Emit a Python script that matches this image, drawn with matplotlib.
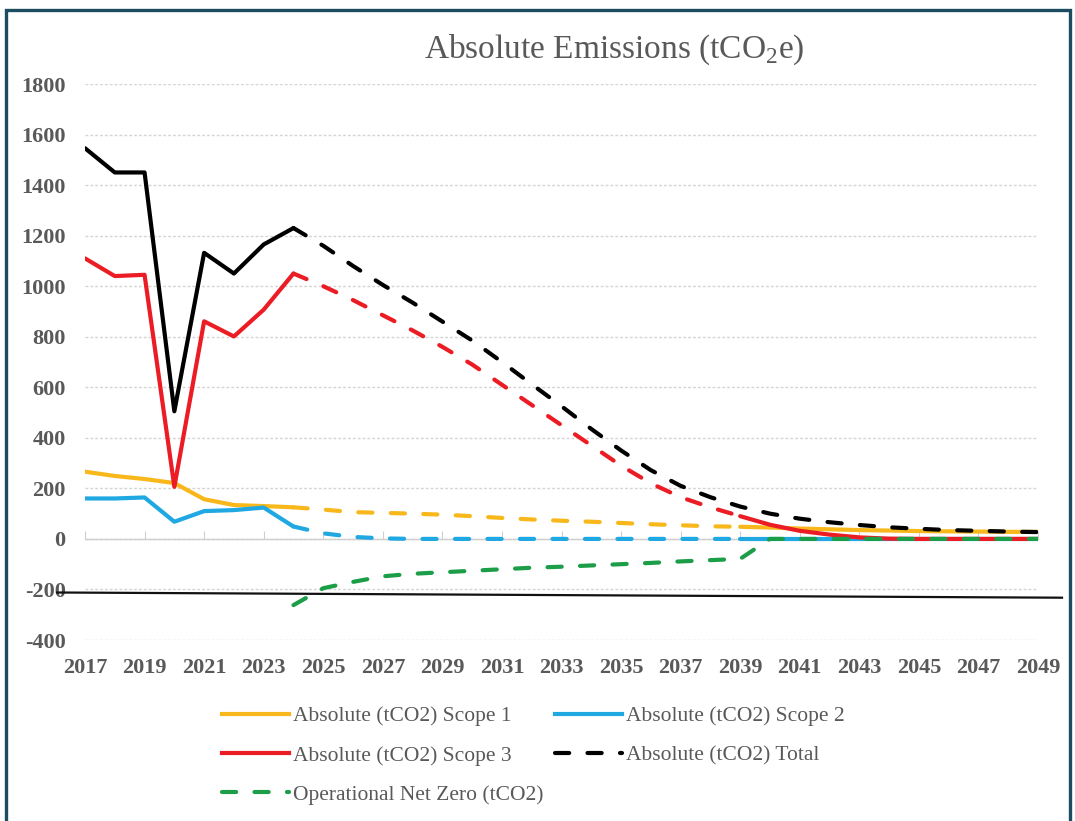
import numpy as np
import matplotlib
matplotlib.use("Agg")
import matplotlib.pyplot as plt
from matplotlib.lines import Line2D
from matplotlib.patches import Rectangle

plt.rcParams['font.family'] = ['Liberation Serif', 'DejaVu Serif']
plt.rcParams['mathtext.fontset'] = 'custom'
plt.rcParams['mathtext.rm'] = 'Liberation Serif'
plt.rcParams['axes.unicode_minus'] = False

# ---------------- data ----------------
years = list(range(2017, 2050))
scope1 = [266, 249, 237, 221, 157, 134, 130, 125, 116, 106, 103, 100, 96, 90, 83, 77,
          72, 68, 63, 58, 54, 50, 48, 45, 41, 38, 35, 33, 31, 30, 29, 28, 28]
scope2 = [160, 160, 164, 68, 110, 114, 124, 49, 22, 8, 2, 0, 0, 0, 0, 0,
          0, 0, 0, 0, 0, 0, 0, 0, 0, 0, 0, 0, 0, 0, 0, 0, 0]
scope3 = [1110, 1040, 1045, 206, 861, 801, 907, 1050, 1000, 945, 885, 825, 760, 690, 610, 530,
          450, 370, 290, 220, 165, 125, 90, 56, 32, 17, 6, 1, 0, 0, 0, 0, 0]
total = [1546, 1450, 1450, 505, 1132, 1050, 1165, 1230, 1160, 1080, 1005, 935, 860, 785, 700, 612,
         525, 435, 350, 272, 210, 165, 128, 100, 80, 66, 55, 46, 40, 35, 32, 29, 27]
net_zero = [np.nan] * 7 + [-262, -195, -170, -148, -138, -132, -126, -120, -114, -110, -105,
                           -100, -95, -89, -84, -79, 0, 0, 0, 0, 0, 0, 0, 0, 0, 0]

labels = ["Absolute (tCO2) Scope 1", "Absolute (tCO2) Scope 2", "Absolute (tCO2) Scope 3",
          "Absolute (tCO2) Total", "Operational Net Zero (tCO2)"]
title = "Absolute Emissions (tCO$_\\mathrm{2}$e)"
actual_end = 2024
solid_again = 2039

# ---------------- style ----------------
c1, c2, c3, ct, cn = '#F8B81B', '#1FA8E2', '#EC1C24', '#000000', '#1C9E48'
lw = 3.0
dash = (3.4, 4.4)
txt_gray = '#595959'

fig = plt.figure(figsize=(10.75, 8.21), dpi=100)
ax = fig.add_axes([85 / 1075, 1 - 640 / 821, (1038 - 85) / 1075, (640 - 84) / 821])

yrs = np.array(years)
def seg(vals, a, b):
    v = np.array(vals, dtype=float)
    m = (yrs >= a) & (yrs <= b)
    return yrs[m], v[m]

def draw(vals, color, resolid=True, z=3):
    x, y = seg(vals, 2017, actual_end)
    ax.plot(x, y, color=color, lw=lw, solid_capstyle='round', zorder=z)
    end = solid_again if resolid else 2049
    x, y = seg(vals, actual_end, end)
    ax.plot(x, y, color=color, lw=lw, linestyle=(0, dash), dash_capstyle='round', zorder=z)
    if resolid:
        x, y = seg(vals, solid_again, 2049)
        ax.plot(x, y, color=color, lw=lw, solid_capstyle='round', zorder=z)

draw(scope1, c1, z=3)
draw(scope2, c2, z=3.1)
draw(scope3, c3, z=3.2)
draw(total, ct, resolid=False, z=3.3)
x, y = seg(net_zero, actual_end, 2049)
ax.plot(x, y, color=cn, lw=lw, linestyle=(0, dash), dash_capstyle='round', zorder=3.4)

ax.set_xlim(2017, 2049)
ax.set_ylim(-400, 1800)
ax.set_yticks(np.arange(-400, 1801, 200))
ax.set_xticks(np.arange(2017, 2050, 2))
ax.grid(axis='y', color='#d4d4d4', linestyle=(0, (2, 1.5)), lw=1.0)
ax.set_axisbelow(True)
for s in ['top', 'right', 'left']:
    ax.spines[s].set_visible(False)
ax.spines['bottom'].set_position(('data', 0))
ax.spines['bottom'].set_color('#cfcfcf')
ax.spines['bottom'].set_linewidth(1.0)
ax.tick_params(axis='x', direction='in', length=6, color='#cfcfcf', pad=86,
               labelsize=16, labelcolor=txt_gray)
ax.tick_params(axis='y', length=0, pad=14, labelsize=16, labelcolor=txt_gray)
for t in ax.get_xticklabels() + ax.get_yticklabels():
    t.set_fontweight('bold')

fig.text(614 / 1075, 1 - 50 / 821, title, ha='center', va='center', fontsize=24, color=txt_gray)

# stray slanted rule across the chart
fig.add_artist(Line2D([57 / 1075, 1062 / 1075], [1 - 592.5 / 821, 1 - 597.7 / 821],
                      transform=fig.transFigure, color='#111111', lw=1.6))

# frame border
fig.add_artist(Rectangle((6 / 1075, -0.05), (1070 - 6) / 1075, 1.05 - 10 / 821,
                         transform=fig.transFigure, fill=False, edgecolor='#1B4C60', lw=2.4))

# legend
h = [Line2D([], [], color=c1, lw=lw),
     Line2D([], [], color=c3, lw=lw),
     Line2D([], [], color=cn, lw=lw, linestyle=(0, dash), dash_capstyle='round'),
     Line2D([], [], color=c2, lw=lw),
     Line2D([], [], color=ct, lw=lw, linestyle=(0, dash), dash_capstyle='round')]
l = [labels[0], labels[2], labels[4], labels[1], labels[3]]
leg = fig.legend(h, l, loc='upper left', bbox_to_anchor=(222 / 1075, 1 - 706 / 821),
                 ncol=2, frameon=False, fontsize=15.5, handlelength=3.1, handletextpad=0.2,
                 columnspacing=0.55, labelspacing=0.9, borderpad=0, borderaxespad=0)
for t in leg.get_texts():
    t.set_color(txt_gray)

fig.savefig('out.png', dpi=100, facecolor='white')
